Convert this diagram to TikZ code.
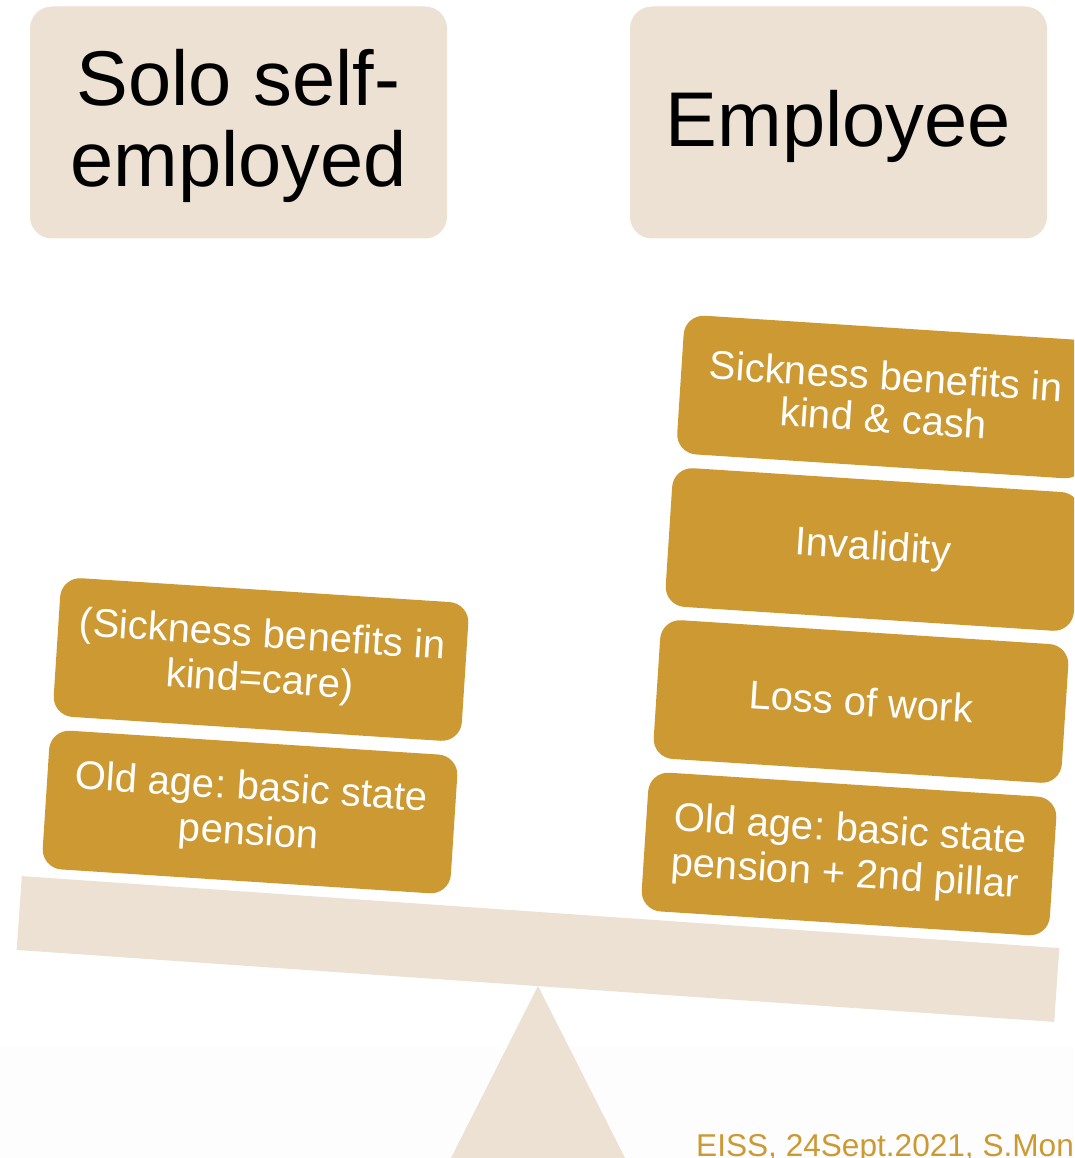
\documentclass[tikz,border=0pt]{standalone}
\usepackage{fontspec}
\setmainfont{Liberation Sans}
\definecolor{tan}{HTML}{ECE1D2}
\definecolor{gold}{HTML}{CC9933}
\tikzset{
  x=1pt,y=-1pt,
  headbox/.style={fill=tan,rounded corners=22pt,minimum width=417pt,minimum height=232pt,inner sep=0pt,outer sep=0pt,align=center,font=\fontsize{77.6}{81}\selectfont},
  pillbox/.style={fill=gold,text=white,rounded corners=20pt,rotate=-3.7,minimum width=409pt,minimum height=139pt,inner sep=0pt,outer sep=0pt,font=\frenchspacing\fontsize{40}{45}\selectfont},
  beambar/.style={fill=tan,rotate=-3.97,minimum width=1040pt,minimum height=74pt,inner sep=0pt,outer sep=0pt},
  footer/.style={text=gold,anchor=base west,inner sep=0pt,font=\fontsize{31.6}{34}\selectfont}
}
\begin{document}
\begin{tikzpicture}
\useasboundingbox (0,0) rectangle (1074,1158);
\clip (0,0) rectangle (1074,1158);
\fill[white] (0,0) rectangle (1074,1158);
\fill[black!0.7] (0,1047) rectangle (1074,1158);
\node[headbox] (solo) at (238.5,122.5) {\vbox{\kern15pt\hbox{\begin{tabular}{@{}c@{}}Solo self-\\employed\end{tabular}}}};
\node[headbox] (emp) at (838.5,122.5) {\vbox{\kern8pt\hbox{Employee}}};
\node[pillbox,align=center] (ls) at (261,659.5) {(Sickness benefits in\\kind=care)};
\node[pillbox,align=center] (lo) at (250,812) {Old age: basic state\\pension};
\node[pillbox,align=left] (ro) at (849,854) {Old age: basic state\\pension + 2nd pillar};
\node[pillbox,align=center] (rl) at (861,701.5) {Loss of work};
\node[pillbox,align=center] (ri) at (873,549.5) {Invalidity};
\node[pillbox,align=center] (rs) at (884.5,397) {Sickness benefits in\\[-3pt]kind \& cash};
\node[beambar] (beam) at (538,949) {};
\coordinate (apex) at (538,986);
\coordinate (bl) at (451,1158);
\coordinate (br) at (625,1158);
\fill[tan] (apex) -- (br) -- (bl) -- cycle;
\node[footer] (foot) at (696,1156) {EISS, 24Sept.2021, S.Mon};
\end{tikzpicture}
\end{document}
